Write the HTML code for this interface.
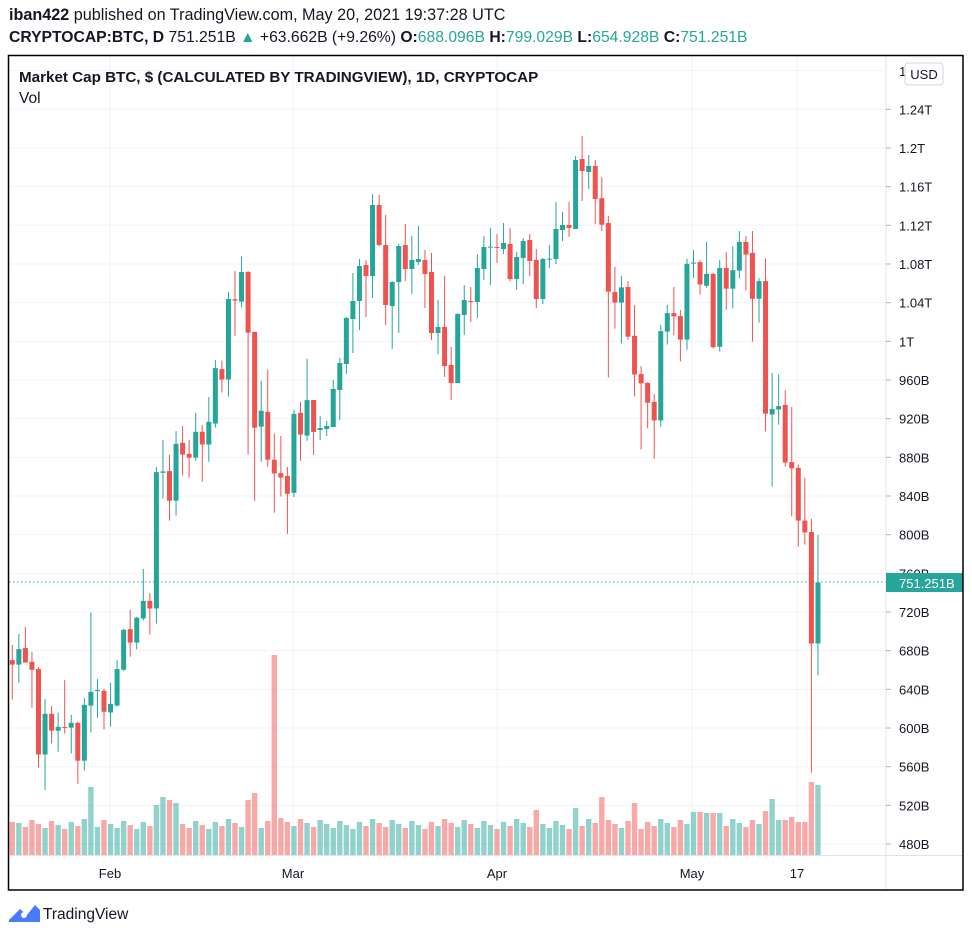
<!DOCTYPE html>
<html><head><meta charset="utf-8"><style>
body{margin:0;background:#fff;width:972px;height:937px;overflow:hidden;font-family:"Liberation Sans",sans-serif;color:#131722}
.h1{position:absolute;left:9px;top:6px;font-size:16.2px;white-space:nowrap}
.h2{position:absolute;left:9px;top:29px;font-size:15.7px;white-space:nowrap}
.t{color:#26a69a}
svg{position:absolute;left:0;top:0}
</style></head><body>
<div class="h1"><b>iban422</b> published on TradingView.com, May 20, 2021 19:37:28 UTC</div>
<div class="h2"><b>CRYPTOCAP:BTC, D</b> 751.251B <span class="t">▲</span> +63.662B (+9.26%) <b>O:</b><span class="t">688.096B</span> <b>H:</b><span class="t">799.029B</span> <b>L:</b><span class="t">654.928B</span> <b>C:</b><span class="t">751.251B</span></div>
<svg id="s" width="972" height="937" xmlns="http://www.w3.org/2000/svg"></svg>
<script>
const z1=[[1191,1204,1147,1306],[1204,1159,1115,1256],[1156,1198,1095,1198],[1196,1219,1167,1329],[1217,1465,1211,1503],[1465,1347,1304,1568],[1347,1396,1324,1433],[1396,1385,1344,1457],[1385,1387,1249,1404],[1387,1373,1350,1462],[1373,1483,1370,1550],[1483,1321,1301,1512],[1323,1283,1053,1401],[1280,1278,1246,1358],[1280,1341,1274,1393],[1343,1318,1257,1384],[1323,1217,1190,1326],[1219,1103,1100,1223],[1101,1140,1045,1181],[1140,1068,1065,1160],[1070,1019,926,1076],[1019,1041,996,1117],[1041,645,630,1085],[647,643,552,722],[642,728,595,786],[728,563,526,771],[560,594,511,655],[592,603,551,661],[603,528,473,612],[528,565,508,673],[565,499,427,615],[504,343,319,516],[346,376,321,414],[376,142,122,426],[143,147,61,249],[150,64,19,167],[64,240,61,594],[238,516,238,728],[513,467,380,615],[470,609,347,629],[609,649,533,763],[648,661,540,716],[656,708,630,824],[705,476,464,718],[473,536,441,612],[539,436,316,554]];
const r2=[[400,432,400,455],[430,428,416,440],[429,426,421,436],[427,389,380,420],[390,363,358,420],[364,318,317,374],[319,301,273,353],[301,266,259,330],[265,276,260,317],[276,205,194,298],[205,245,195,246],[245,305,215,325],[306,282,281,349],[282,246,244,333],[245,269,224,281],[269,260,236,294],[262,259,226,265],[260,274,250,308],[272,333,253,340],[333,327,300,354],[327,366,276,377],[365,383,347,400],[383,314,313,383],[315,300,285,335],[301,302,287,322],[302,268,254,318],[269,247,236,280],[247,246.6,228,285],[247,248,234,263],[249,243,223,254],[244,279,228,281],[279,257,252,290],[258,241,238,284],[240,261,234,276],[260,299,249,308],[299,259,258,304],[259,258.6,245,268],[259,229,202,264],[230,225,212,241],[225,228,202,237],[229,160,156,229],[159,171,136,201],[172,166,155,189],[166,199,160,224]];
const z3=[[162,225,112,240],[221,384,204,588],[385,410,325,472],[410,374,347,507],[373,491,359,498],[489,581,416,633],[580,602,561,759],[601,648,599,709],[646,690,627,781],[690,478,463,705],[479,435,416,510],[435,443,373,488],[442,498,428,550],[498,318,306,522],[316,315,285,351],[314,367,309,391],[370,342,266,375],[342,516,340,519],[515,328,309,526],[328,377,290,427],[377,333,276,424],[334,266,240,353],[266,296,252,381],[292,401,240,503],[401,359,352,458],[359,674,305,716],[676,663,577,847],[664,656,581,700],[653,790,618,800],[789,804,658,918],[803,928,795,990],[928,956,826,985],[955,1220,924,1527],[1220,1075,962,1296]];
let C=[];
z1.forEach(a=>C.push(a.map(v=>250+v/2.904)));
r2.forEach(a=>C.push(a));
z3.forEach(a=>C.push(a.map(v=>130+v/2.376)));
const G="#26a69a",R="#ef5350";
let s='';
const labs=["1.24T","1.2T","1.16T","1.12T","1.08T","1.04T","1T","960B","920B","880B","840B","800B","760B","720B","680B","640B","600B","560B","520B","480B"];
labs.forEach((l,i)=>{const y=109.3+i*38.67;s+=`<line x1="9" x2="886" y1="${y}" y2="${y}" stroke="#f0f3fa"/>`;});
s+=`<line x1="9" x2="886" y1="70.6" y2="70.6" stroke="#f0f3fa"/>`;
[110,293,497,692,797].forEach(x=>s+=`<line x1="${x}" x2="${x}" y1="56" y2="855" stroke="#f0f3fa"/>`);
const spec={0:822,12:787,22:805,23:797,24:800,25:803,36:800,37:793,40:655,41:818,80:810,86:808,90:797,95:803,116:799,115:811,122:782,123:785,120:822,119:817,121:822,117:820,118:820,104:812,105:812,106:813,107:813,108:813};
C.forEach((c,i)=>{const x=12.3+i*6.55;const top=spec[i]!==undefined?spec[i]:(819+((i*37)%11));const col=c[1]<=c[0]?"rgba(38,166,154,0.5)":"rgba(239,83,80,0.5)";s+=`<rect x="${x-2.7}" y="${top}" width="5.4" height="${855-top}" fill="${col}"/>`;});
s+=`<line x1="9" x2="886" y1="582" y2="582" stroke="${G}" stroke-dasharray="1.5,2.5"/>`;
C.forEach((c,i)=>{const x=12.3+i*6.55;const[o,cl,h,l]=c;const col=cl<=o?G:R;const t=Math.min(o,cl),b=Math.max(o,cl,t+1);s+=`<line x1="${x}" x2="${x}" y1="${h}" y2="${l}" stroke="${col}" stroke-width="1"/><rect x="${x-2.5}" y="${t}" width="5" height="${b-t}" fill="${col}"/>`;});
s+=`<rect x="886" y="56" width="77" height="834" fill="#fff"/>`;
s+=`<line x1="886" x2="886" y1="56" y2="890" stroke="#e0e3eb"/><line x1="9" x2="963" y1="855.5" y2="855.5" stroke="#e0e3eb"/>`;
labs.forEach((l,i)=>{const y=109.3+i*38.67;s+=`<line x1="886" x2="891" y1="${y}" y2="${y}" stroke="#b2b5be"/><text x="899" y="${y+5}" font-size="13" fill="#131722" font-family="Liberation Sans">${l}</text>`;});
s+=`<text x="899" y="76" font-size="13" fill="#131722" font-family="Liberation Sans">1</text>`;
s+=`<rect x="905" y="63" width="38" height="22" rx="3" fill="#fff" stroke="#d1d4dc"/><text x="924" y="79" text-anchor="middle" font-size="13" fill="#131722" font-family="Liberation Sans">USD</text>`;
s+=`<rect x="886" y="573" width="77" height="19" fill="${G}"/><text x="899" y="588" font-size="13" fill="#fff" font-family="Liberation Sans">751.251B</text>`;
[["Feb",110],["Mar",293],["Apr",497],["May",692],["17",797]].forEach(([t,x])=>s+=`<text x="${x}" y="878" text-anchor="middle" font-size="13" fill="#131722" font-family="Liberation Sans">${t}</text>`);
s+=`<rect x="8.5" y="55.5" width="954.5" height="834.5" fill="none" stroke="#000" stroke-width="1.5"/>`;
s+=`<text x="19" y="82" font-size="15.2" font-weight="bold" fill="#131722" font-family="Liberation Sans">Market Cap BTC, $ (CALCULATED BY TRADINGVIEW), 1D, CRYPTOCAP</text><text x="19" y="103" font-size="15.5" fill="#131722" font-family="Liberation Sans">Vol</text>`;
s+=`<path d="M9 920 L20 909 L27 915 L35 905 L40 910 L40 922 L9 922Z" fill="#2962ff" opacity="0.85"/><circle cx="24" cy="915" r="3" fill="#fff"/>`;
s+=`<text x="43" y="919" font-size="15.5" fill="#131722" font-family="Liberation Sans">TradingView</text>`;
document.getElementById('s').innerHTML=s;
</script>
</body></html>
